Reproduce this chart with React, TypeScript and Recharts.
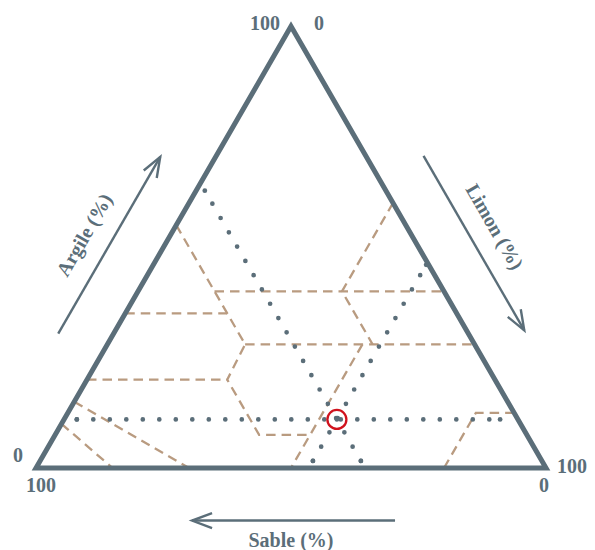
import { ScatterChart, Scatter, XAxis, YAxis, ReferenceDot } from 'recharts'

type Pt = [number, number] // [argile %, limon %]

// point analysé
const sample = { argile: 11, limon: 53.5, sable: 35.5 }

// limites des classes de texture (polylignes en [argile, limon])
const limitSable45: Pt[] = [[55, 0], [40, 15], [35, 20], [28, 27], [20, 27.5], [7.5, 40], [7.5, 50]]
const limitArgile40: Pt[] = [[40, 15], [40, 60]]
const limitArgile35: Pt[] = [[35, 0], [35, 20]]
const limitArgile28: Pt[] = [[28, 27], [28, 72]]
const limitArgile20: Pt[] = [[20, 0], [20, 27.5]]
const limitLimon40: Pt[] = [[60, 40], [40, 40], [28, 52]]
const limitLimon50: Pt[] = [[28, 50], [0, 50]]
const limitLimon80: Pt[] = [[0, 80], [12.5, 80], [12.5, 87.5]]
const limitSableLimoneux: Pt[] = [[15, 0], [0, 30]]
const limitSable: Pt[] = [[10, 0], [0, 15]]
const limits = [
  limitSable45, limitArgile40, limitArgile35, limitArgile28, limitArgile20,
  limitLimon40, limitLimon50, limitLimon80, limitSableLimoneux, limitSable,
]

// lignes de lecture du point
const guideArgile: Pt[] = [[11, 2.5], [11, 85.5]]
const guideSable: Pt[] = [[1.6, 62.9], [62.8, 1.7]]
const guideLimon: Pt[] = [[1.6, 53.5], [46, 53.5]]

const axisTitles = ['Argile (%)', 'Limon (%)', 'Sable (%)']
const cornerTicks = ['100', '0']

const INK = '#5b6e79'
const TAN = '#b99b80'
const RED = '#d0121d'
const FONT = 'Liberation Serif'

const W = 595
const H = 550
const PX = 5.1 // pixels par unité
const X0 = 36
const Y0 = 468
const SQ = Math.sqrt(3) / 2

const toXY = ([a, l]: Pt) => ({ x: l + a / 2, y: a * SQ })

const TOP = { x: 50, y: 100 * SQ }
const BL = { x: 0, y: 0 }
const BR = { x: 100, y: 0 }

type V = { x: number; y: number }
const along = (p0: V, p1: V, t: number, off: number) => {
  const len = Math.hypot(p1.x - p0.x, p1.y - p0.y)
  const dx = (p1.x - p0.x) / len
  const dy = (p1.y - p0.y) / len
  return { x: p0.x + (p1.x - p0.x) * t - dy * off, y: p0.y + (p1.y - p0.y) * t + dx * off, dx, dy }
}

const arrow = (p0: V, p1: V, t0: number, t1: number, off: number) => {
  const a = along(p0, p1, t0, off)
  const b = along(p0, p1, t1, off)
  const hl = 20 / PX
  const hw = 7.5 / PX
  const shaft = [{ x: a.x, y: a.y }, { x: b.x, y: b.y }]
  const head = [
    { x: b.x - b.dx * hl - b.dy * hw, y: b.y - b.dy * hl + b.dx * hw },
    { x: b.x, y: b.y },
    { x: b.x - b.dx * hl + b.dy * hw, y: b.y - b.dy * hl - b.dx * hw },
  ]
  return { shaft, head }
}

const arrows = [
  arrow(BL, TOP, 0.25, 0.65, 9.4),
  arrow(TOP, BR, 0.35, 0.745, 9.8),
  arrow(BR, BL, 0.296, 0.694, 10.3),
]
const titlePos = [
  { ...along(BL, TOP, 0.443, 14.7), angle: -60 },
  { ...along(TOP, BR, 0.54, 15), angle: 60 },
  { ...along(BR, BL, 0.5, 14.1), angle: 0 },
]

// étiquettes des sommets, décalages en pixels
const tickPos = [
  { c: TOP, dx: -26, dy: -3, text: cornerTicks[0] },
  { c: TOP, dx: 28, dy: -3, text: cornerTicks[1] },
  { c: BL, dx: -18, dy: -13, text: cornerTicks[1] },
  { c: BL, dx: 5, dy: 17, text: cornerTicks[0] },
  { c: BR, dx: 26, dy: -2, text: cornerTicks[0] },
  { c: BR, dx: -2, dy: 17, text: cornerTicks[1] },
]

const noDot = () => <g />
const endDot = (p: any) => <circle cx={p.cx} cy={p.cy} r={2.4} fill={INK} />

const textStyle = { fill: INK, fontSize: 20, fontWeight: 700, fontFamily: FONT }

export default function App() {
  const outline = [BL, BR, TOP, BL, BR]
  const s = toXY([sample.argile, sample.limon])
  return (
    <div style={{ position: 'absolute', left: 0, top: 0, background: '#fff' }}>
      <ScatterChart width={W} height={H} margin={{ top: 0, right: 0, bottom: 0, left: 0 }}>
        <XAxis type="number" dataKey="x" hide allowDataOverflow domain={[-X0 / PX, (W - X0) / PX]} />
        <YAxis type="number" dataKey="y" hide allowDataOverflow domain={[-(H - Y0) / PX, Y0 / PX]} />
        {limits.map((l, i) => (
          <Scatter key={'l' + i} data={l.map(toXY)} shape={noDot} isAnimationActive={false}
            line={{ stroke: TAN, strokeWidth: 2.3, strokeDasharray: '9.5 6' }} />
        ))}
        {[guideArgile, guideSable, guideLimon].map((g, i) => (
          <Scatter key={'g' + i} data={g.map(toXY)} shape={endDot} isAnimationActive={false}
            line={{ stroke: INK, strokeWidth: 4.7, strokeDasharray: '0 16.5', strokeLinecap: 'round' }} />
        ))}
        <Scatter data={outline} shape={noDot} isAnimationActive={false}
          line={{ stroke: INK, strokeWidth: 5, strokeLinejoin: 'miter' }} />
        {arrows.map((a, i) => (
          <Scatter key={'a' + i} data={a.shaft} shape={noDot} isAnimationActive={false}
            line={{ stroke: INK, strokeWidth: 2.4 }} />
        ))}
        {arrows.map((a, i) => (
          <Scatter key={'h' + i} data={a.head} shape={noDot} isAnimationActive={false}
            line={{ stroke: INK, strokeWidth: 2.4, strokeLinejoin: 'miter' }} />
        ))}
        <Scatter data={[s]} shape={endDot} isAnimationActive={false} />
        <ReferenceDot x={s.x} y={s.y} r={9.5} fill="none" stroke={RED} strokeWidth={2.3} />
        {titlePos.map((p, i) => (
          <ReferenceDot key={'t' + i} x={p.x} y={p.y} r={0} fill="none" stroke="none"
            label={{ value: axisTitles[i], position: 'center', angle: p.angle, ...textStyle }} />
        ))}
        {tickPos.map((p, i) => (
          <ReferenceDot key={'k' + i} x={p.c.x + p.dx / PX} y={p.c.y - p.dy / PX} r={0} fill="none" stroke="none"
            label={{ value: p.text, position: 'center', ...textStyle }} />
        ))}
      </ScatterChart>
    </div>
  )
}
